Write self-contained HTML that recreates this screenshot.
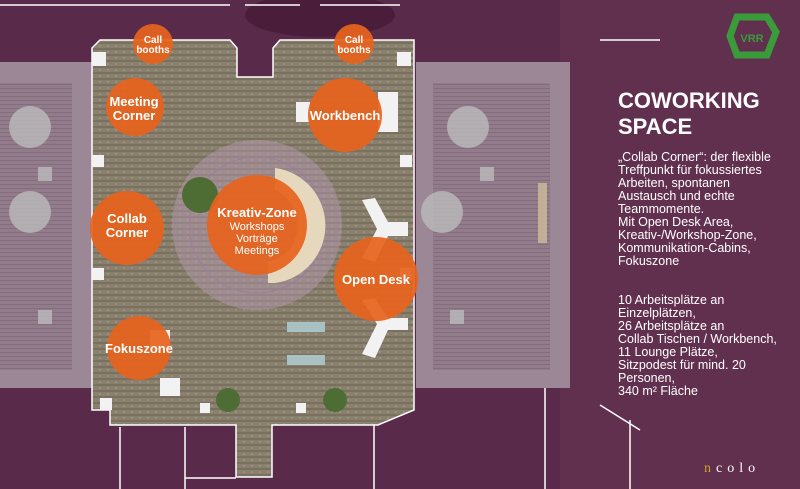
<!DOCTYPE html>
<html><head><meta charset="utf-8"><style>
html,body{margin:0;padding:0;width:800px;height:489px;overflow:hidden;background:#5a2a4a}
svg{display:block}
.t{font-family:"Liberation Sans",sans-serif;fill:#fff;font-weight:bold;text-anchor:middle}
</style></head><body>
<svg width="800" height="489" viewBox="0 0 800 489" xmlns="http://www.w3.org/2000/svg">
<defs>
<pattern id="fl" width="8" height="6" patternUnits="userSpaceOnUse">
<rect width="8" height="6" fill="#8a806e"/><rect y="0" width="8" height="2" fill="#7a7060"/><circle cx="4" cy="4" r="1" fill="#9e957f"/>
</pattern>
<pattern id="wd" width="6" height="4" patternUnits="userSpaceOnUse">
<rect width="6" height="4" fill="#927c8b"/><rect width="6" height="1" fill="#846d7c"/>
</pattern>
</defs>
<rect width="800" height="489" fill="#5a2a4a"/>
<rect x="560" y="0" width="240" height="489" fill="#62304f"/>
<ellipse cx="320" cy="15" rx="75" ry="22" fill="#4a1d3a"/>
<!-- terraces -->
<rect x="0" y="62" width="92" height="326" fill="#9c8797"/>
<rect x="0" y="83" width="72" height="287" fill="url(#wd)"/>
<rect x="416" y="62" width="154" height="326" fill="#9c8797"/>
<rect x="433" y="83" width="117" height="287" fill="url(#wd)"/>
<!-- floor -->
<path d="M92,48 L100,40 L230,40 L237,48 L237,77 L273,77 L273,48 L280,40 L414,40 L414,410 L378,425 L272,425 L272,477 L236,477 L236,425 L110,425 L110,410 L92,410 Z" fill="url(#fl)" stroke="#fff" stroke-width="1.5"/>
<g stroke="#fff" stroke-width="1.5" fill="none">
<line x1="120" y1="427" x2="120" y2="489"/><line x1="185" y1="427" x2="185" y2="489"/>
<line x1="185" y1="478" x2="236" y2="478"/><line x1="374" y1="425" x2="374" y2="489"/>
<line x1="545" y1="388" x2="545" y2="489"/><line x1="0" y1="5" x2="230" y2="5"/>
<line x1="245" y1="5" x2="300" y2="5"/><line x1="320" y1="5" x2="400" y2="5"/>
<line x1="600" y1="40" x2="660" y2="40"/><line x1="600" y1="405" x2="640" y2="430"/><line x1="630" y1="420" x2="630" y2="489"/>
</g>
<circle cx="257" cy="225" r="85" fill="#b89bb8" opacity="0.45"/>
<circle cx="257" cy="225" r="68" fill="none" stroke="#a07c99" stroke-width="1"/>
<path d="M275,168 A58,58 0 0 1 275,283 L268,283 L268,262 A38,38 0 0 0 275,190 Z" fill="#e6d8bd"/>
<circle cx="200" cy="195" r="18" fill="#4e6d34"/>
<circle cx="228" cy="400" r="12" fill="#4e6d34"/><circle cx="335" cy="400" r="12" fill="#4e6d34"/>
<g fill="#f2f2f2">
<rect x="296" y="102" width="14" height="20"/><rect x="378" y="92" width="20" height="40"/>
<polygon points="362,200 375,198 388,222 408,222 408,236 388,236 375,262 362,258 377,229"/>
<polygon points="362,300 375,298 388,318 408,318 408,330 388,330 375,358 362,354 377,324"/>
<rect x="100" y="398" width="12" height="12"/><rect x="200" y="403" width="10" height="10"/><rect x="296" y="403" width="10" height="10"/>
<rect x="92" y="52" width="14" height="14"/><rect x="397" y="52" width="14" height="14"/>
<rect x="92" y="155" width="12" height="12"/><rect x="400" y="155" width="12" height="12"/>
<rect x="92" y="268" width="12" height="12"/><rect x="400" y="268" width="12" height="12"/>
<rect x="150" y="330" width="20" height="20"/><rect x="160" y="378" width="20" height="18"/>
</g>
<rect x="287" y="322" width="38" height="10" fill="#a8c2c4"/><rect x="287" y="355" width="38" height="10" fill="#a8c2c4"/>
<g fill="#bbb" opacity="0.8">
<circle cx="30" cy="127" r="21"/><circle cx="30" cy="212" r="21"/><circle cx="468" cy="127" r="21"/><circle cx="442" cy="212" r="21"/>
<rect x="38" y="310" width="14" height="14"/><rect x="450" y="310" width="14" height="14"/><rect x="38" y="167" width="14" height="14"/><rect x="480" y="167" width="14" height="14"/>
</g>
<rect x="538" y="183" width="9" height="60" fill="#cdbb9a" opacity="0.8"/>
<g fill="#e8631d" opacity="0.92">
<circle cx="153" cy="44" r="20"/><circle cx="354" cy="44" r="20"/>
<circle cx="135" cy="107" r="29"/><circle cx="345" cy="115" r="37"/>
<circle cx="127" cy="228" r="37"/><circle cx="257" cy="225" r="50"/>
<circle cx="376" cy="279" r="42"/><circle cx="139" cy="348" r="32"/>
</g>
<g class="t" font-size="10">
<text x="153" y="43">Call</text><text x="153" y="53">booths</text>
<text x="354" y="43">Call</text><text x="354" y="53">booths</text>
</g>
<g class="t" font-size="13">
<text x="134" y="106">Meeting</text><text x="134" y="120">Corner</text>
<text x="345" y="120">Workbench</text>
<text x="127" y="223">Collab</text><text x="127" y="237">Corner</text>
<text x="257" y="217">Kreativ-Zone</text>
<text x="376" y="284">Open Desk</text>
<text x="139" y="353">Fokuszone</text>
</g>
<g class="t" font-size="11" style="font-weight:normal">
<text x="257" y="230">Workshops</text><text x="257" y="242">Vorträge</text><text x="257" y="254">Meetings</text>
</g>
<polygon points="737,17 767,17 776,32 767,55 737,55 730,36" fill="none" stroke="#3a9b3a" stroke-width="7"/>
<text x="752" y="42" font-family="Liberation Sans,sans-serif" font-size="11" font-weight="bold" fill="#3a9b3a" text-anchor="middle">VRR</text>
<g font-family="Liberation Sans,sans-serif" fill="#fff">
<text x="618" y="108" font-size="22" font-weight="bold">COWORKING</text>
<text x="618" y="134" font-size="22" font-weight="bold">SPACE</text>
<g font-size="12.5">
<text x="618" y="161">„Collab Corner“: der flexible</text>
<text x="618" y="174">Treffpunkt für fokussiertes</text>
<text x="618" y="187">Arbeiten, spontanen</text>
<text x="618" y="200">Austausch und echte</text>
<text x="618" y="213">Teammomente.</text>
<text x="618" y="226">Mit Open Desk Area,</text>
<text x="618" y="239">Kreativ-/Workshop-Zone,</text>
<text x="618" y="252">Kommunikation-Cabins,</text>
<text x="618" y="265">Fokuszone</text>
<text x="618" y="304">10 Arbeitsplätze an</text>
<text x="618" y="317">Einzelplätzen,</text>
<text x="618" y="330">26 Arbeitsplätze an</text>
<text x="618" y="343">Collab Tischen / Workbench,</text>
<text x="618" y="356">11 Lounge Plätze,</text>
<text x="618" y="369">Sitzpodest für mind. 20</text>
<text x="618" y="382">Personen,</text>
<text x="618" y="395">340 m² Fläche</text>
</g>
<text x="704" y="472" font-size="14" font-family="Liberation Serif,serif" letter-spacing="5"><tspan fill="#c9a227">n</tspan>colo</text>
</g>
</svg>
</body></html>
